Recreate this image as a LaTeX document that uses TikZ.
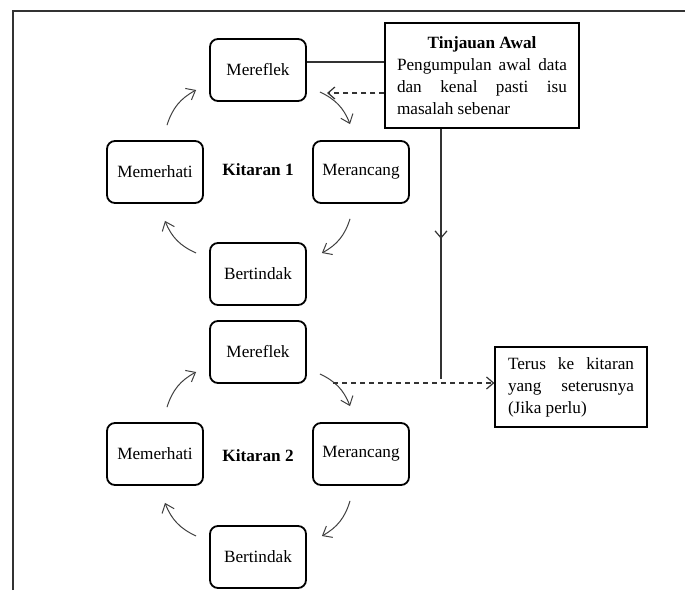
\documentclass[tikz,border=0pt]{standalone}
\usepackage{fontspec}
\setmainfont{Liberation Serif}
\usetikzlibrary{arrows.meta,decorations.markings}

\begin{document}
\begin{tikzpicture}[x=1pt,y=1pt]
\tikzstyle{every node}+=[font=\fontsize{17.2}{22}\selectfont]
\tikzstyle{stage}=[draw=black,line width=1.8pt,rounded corners=8pt,minimum width=96pt,minimum height=62pt,inner sep=0pt]
\tikzstyle{note}=[draw=black,line width=1.2pt,align=justify,inner xsep=12pt,inner ysep=0pt]
\tikzstyle{cyc}=[draw=black!75,line width=1pt,-{Straight Barb[length=8pt,width=13pt]},bend left=22]
\tikzstyle{link}=[draw=black!80,line width=1.2pt]
\tikzstyle{dashlink}=[draw=black!80,line width=1.2pt,dash pattern=on 5pt off 4pt,-{Straight Barb[length=7pt,width=12pt]}]
\useasboundingbox (0,0) rectangle (685,-590);
\draw [black!80,line width=1.5pt] (13,-590) -- (13,-11) -- (685,-11);
\node [stage] (mref1) at (258,-70) {Mereflek};
\node [stage] (mem1) at (155,-172) {Memerhati};
\node [stage] (mer1) at (361,-172) {Merancang};
\node [stage] (bert1) at (258,-274) {Bertindak};
\node (kit1) at (258,-170) {\textbf{Kitaran 1}};
\node [stage] (mref2) at (258,-352) {Mereflek};
\node [stage] (mem2) at (155,-454) {Memerhati};
\node [stage] (mer2) at (361,-454) {Merancang};
\node [stage] (bert2) at (258,-557) {Bertindak};
\node (kit2) at (258,-456) {\textbf{Kitaran 2}};
\node [note,text width=170pt,minimum height=105pt] (tinj) at (482,-75.5) {{\centering\textbf{Tinjauan Awal}\par}Pengumpulan awal data\linebreak dan kenal pasti isu\linebreak masalah sebenar};
\node [note,text width=126pt,minimum height=80pt,inner xsep=13pt] (terus) at (571,-387) {Terus ke kitaran\linebreak yang seterusnya\linebreak (Jika perlu)};
\draw [cyc] ([shift={(12,15)}]mem1.north) to ([shift={(-13,-20)}]mref1.west);
\draw [cyc] ([shift={(13,-22)}]mref1.east) to ([shift={(-11,16)}]mer1.north);
\draw [cyc] ([shift={(-11,-15)}]mer1.south) to ([shift={(15,21)}]bert1.east);
\draw [cyc] ([shift={(-13,21)}]bert1.west) to ([shift={(10,-17)}]mem1.south);
\draw [cyc] ([shift={(12,15)}]mem2.north) to ([shift={(-13,-20)}]mref2.west);
\draw [cyc] ([shift={(13,-22)}]mref2.east) to ([shift={(-11,16)}]mer2.north);
\draw [cyc] ([shift={(-11,-15)}]mer2.south) to ([shift={(15,21)}]bert2.east);
\draw [cyc] ([shift={(-13,21)}]bert2.west) to ([shift={(10,-17)}]mem2.south);
\coordinate (ret) at (327,-93);
\coordinate (drop) at (441,-379);
\coordinate (go) at (333,-383);
\draw [link] ([yshift=8pt]mref1.east) -- ([yshift=8pt]mref1.east -| tinj.west);
\draw [dashlink] (ret -| tinj.west) -- (ret);
\draw [link,postaction={decorate},decoration={markings,mark=at position 0.44 with {\arrow{Straight Barb[length=7pt,width=12pt]}}}] (drop |- tinj.south) -- (drop);
\draw [dashlink] (go) -- (go -| terus.west);
\end{tikzpicture}
\end{document}
